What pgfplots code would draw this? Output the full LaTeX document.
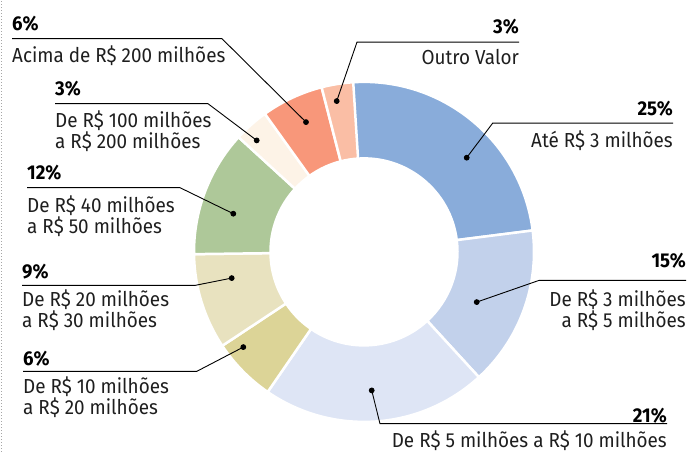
\documentclass[border=0pt]{standalone}
\usepackage{pgfplots}
\usepackage{pgfplotstable}
\pgfplotsset{compat=1.18}
\usepackage{fontspec}
\setmainfont{Fira Sans}[FakeStretch=0.93]
\definecolor{slice0}{HTML}{89ACDA}
\definecolor{slice1}{HTML}{C2D1EB}
\definecolor{slice2}{HTML}{DEE5F5}
\definecolor{slice3}{HTML}{DCD497}
\definecolor{slice4}{HTML}{E8E2BF}
\definecolor{slice5}{HTML}{AEC899}
\definecolor{slice6}{HTML}{FDF3E7}
\definecolor{slice7}{HTML}{F8977A}
\definecolor{slice8}{HTML}{FABEA5}
\definecolor{txt}{HTML}{1E1E1E}
% share of each slice (percent), clockwise from the top
\pgfplotstableread{
value
24.1
15.2
21.4
6.1
9.1
12.0
3.3
5.9
3.0
}\donut
\begin{document}
\begin{tikzpicture}[
  lab/.style={font=\fontsize{20.3}{21}\selectfont, inner sep=0pt, text=txt},
  pct/.style={font=\bfseries\fontsize{20}{21}\selectfont, inner sep=0pt, text=black}]
\begin{axis}[scale only axis, width=690pt, height=451pt,
  xmin=0, xmax=690, ymin=0, ymax=451, hide axis, clip=false]
\path (axis cs:0,0) rectangle (axis cs:690,451);
\def\cum{94}
\pgfplotsforeachungrouped \i in {0,...,8}{%
  \pgfplotstablegetelem{\i}{value}\of\donut
  \pgfmathsetmacro\a{\cum}%
  \pgfmathsetmacro\b{\cum-3.6*\pgfplotsretval}%
  \edef\temp{\noexpand\filldraw[fill=slice\i, draw=white, line width=2.5pt]
    (axis cs:{364+170*cos(\a)},{199.5+170*sin(\a)}) arc[start angle=\a, end angle=\b, radius=170pt]
    -- (axis cs:{364+93.5*cos(\b)},{199.5+93.5*sin(\b)}) arc[start angle=\b, end angle=\a, radius=93.5pt] -- cycle;}%
  \temp
  \let\cum\b
}
% leader lines
\pgfplotsset{leader/.style={black, line width=0.9pt, mark=*, mark size=2.4pt, mark indices={1}}}
\addplot[leader] coordinates {(306,329.3) (222,412.7) (12,412.7)};
\addplot[leader] coordinates {(256.7,311) (208,347.7) (55,347.7)};
\addplot[leader] coordinates {(336.7,350.3) (357,409.3) (519,409.3)};
\addplot[leader] coordinates {(466.7,293.7) (492.7,328.3) (673,328.3)};
\addplot[leader] coordinates {(476.7,149.3) (539,171) (686,171)};
\addplot[leader] coordinates {(371.7,61) (380,27.7) (667,27.7)};
\addplot[leader] coordinates {(243.3,104.3) (196.7,80) (23,80)};
\addplot[leader] coordinates {(231.7,173.3) (195,166) (22,166)};
\addplot[leader] coordinates {(233.3,237.7) (180,263.7) (27,263.7)};
% dotted border
\addplot[gray!70, line width=0.8pt, dash pattern=on 0.8pt off 2.2pt] coordinates {(1,0) (1,451)};
% labels
\node[pct, anchor=base west] at (axis cs:12,421) {6\%};
\node[lab, anchor=base west] at (axis cs:12,388.5) {Acima de R\$ 200 milhões};
\node[pct, anchor=base west] at (axis cs:55,356) {3\%};
\node[lab, anchor=base west] at (axis cs:55,323.7) {De R\$ 100 milhões};
\node[lab, anchor=base west] at (axis cs:55,302.7) {a R\$ 200 milhões};
\node[pct, anchor=base east] at (axis cs:519,418) {3\%};
\node[lab, anchor=base east] at (axis cs:519,387) {Outro Valor};
\node[pct, anchor=base east] at (axis cs:673,336) {25\%};
\node[lab, anchor=base east] at (axis cs:673,304.3) {Até R\$ 3 milhões};
\node[pct, anchor=base east] at (axis cs:686,184) {15\%};
\node[lab, anchor=base east] at (axis cs:686,145) {De R\$ 3 milhões};
\node[lab, anchor=base east] at (axis cs:686,123.7) {a R\$ 5 milhões};
\node[pct, anchor=base east] at (axis cs:667,29.3) {21\%};
\node[lab, anchor=base east] at (axis cs:667,4) {De R\$ 5 milhões a R\$ 10 milhões};
\node[pct, anchor=base west] at (axis cs:23,86) {6\%};
\node[lab, anchor=base west] at (axis cs:23,58.3) {De R\$ 10 milhões};
\node[lab, anchor=base west] at (axis cs:23,36.7) {a R\$ 20 milhões};
\node[pct, anchor=base west] at (axis cs:22,173) {9\%};
\node[lab, anchor=base west] at (axis cs:22,145) {De R\$ 20 milhões};
\node[lab, anchor=base west] at (axis cs:22,123.7) {a R\$ 30 milhões};
\node[pct, anchor=base west] at (axis cs:27,272) {12\%};
\node[lab, anchor=base west] at (axis cs:27,239.3) {De R\$ 40 milhões};
\node[lab, anchor=base west] at (axis cs:27,218.3) {a R\$ 50 milhões};
\end{axis}
\end{tikzpicture}
\end{document}
